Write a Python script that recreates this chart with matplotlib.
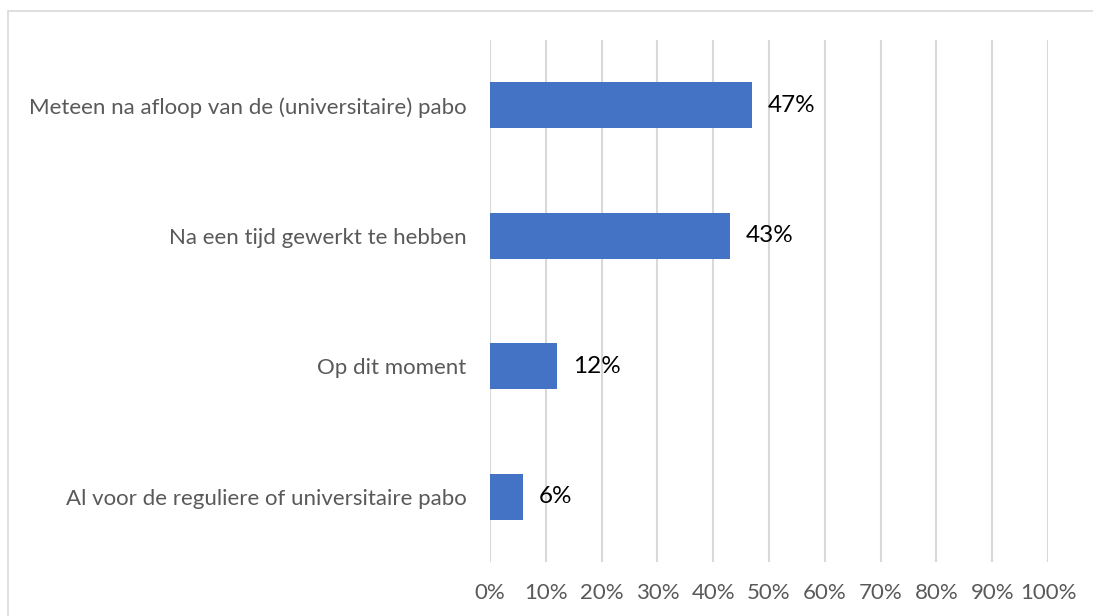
import matplotlib.pyplot as plt
from matplotlib.patches import Rectangle

# Data
categories = ['Meteen na afloop van de (universitaire) pabo',
              'Na een tijd gewerkt te hebben',
              'Op dit moment',
              'Al voor de reguliere of universitaire pabo']
values = [47, 43, 12, 6]
ticks = list(range(0, 101, 10))
tick_labels = [f'{t}%' for t in ticks]

plt.rcParams['font.family'] = ['Lato', 'DejaVu Sans']

fig = plt.figure(figsize=(10.93, 6.16), dpi=100)
# light gray chart border (extends past right/bottom edge)
fig.patches.append(Rectangle((8 / 1093, -0.1), 1.2, 1 - 11 / 616 + 0.1,
                             transform=fig.transFigure, fill=False,
                             edgecolor='#d9d9d9', linewidth=1.2))

ax = fig.add_axes([490 / 1093, 1 - 562 / 616, 558 / 1093, 522 / 616])

y = list(range(len(categories)))
ax.barh(y, values, height=0.35, color='#4472c4', zorder=3)
for yi, v in zip(y, values):
    ax.text(v + 2.8, yi, f'{v}%', va='center', ha='left', fontsize=17.5, color='black')

ax.set_xlim(0, 100)
ax.set_ylim(3.5, -0.5)
ax.set_xticks(ticks)
ax.set_xticklabels(tick_labels, fontsize=16, color='#595959')
ax.set_yticks(y)
ax.set_yticklabels(categories, fontsize=16, color='#595959')
ax.tick_params(axis='both', length=0)
ax.tick_params(axis='x', pad=15)
ax.tick_params(axis='y', pad=17)
ax.grid(axis='x', color='#d9d9d9', linewidth=1.5, zorder=0)
for s in ax.spines.values():
    s.set_visible(False)

fig.savefig('out.png', dpi=100)
